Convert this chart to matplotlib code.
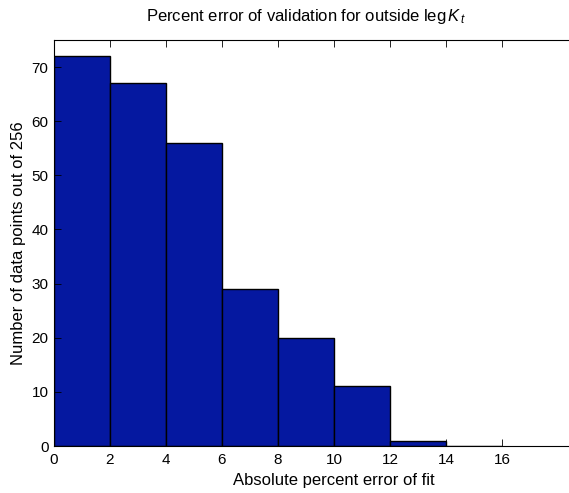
import matplotlib
matplotlib.use('Agg')
import matplotlib.pyplot as plt

bin_edges = [0, 2, 4, 6, 8, 10, 12, 14, 16]
counts = [72, 67, 56, 29, 20, 11, 1, 0]
x_ticks = [0, 2, 4, 6, 8, 10, 12, 14, 16]
y_ticks = [0, 10, 20, 30, 40, 50, 60, 70]

plt.rcParams['font.family'] = ['Liberation Sans', 'DejaVu Sans']
plt.rcParams['mathtext.fontset'] = 'custom'
plt.rcParams['mathtext.it'] = 'Liberation Sans:italic'
plt.rcParams['mathtext.rm'] = 'Liberation Sans'

W, H = 569, 493
fig = plt.figure(figsize=(W / 100, H / 100), dpi=100)
# axes: left 54px, bottom 446px, top 40px; right side runs past the image edge
left, right, top, bottom = 54, 614, 40, 446
ax = fig.add_axes([left / W, 1 - bottom / H, (right - left) / W, (bottom - top) / H])

widths = [bin_edges[i + 1] - bin_edges[i] for i in range(len(counts))]
ax.bar(bin_edges[:-1], counts, width=widths, align='edge',
       color='#0518A0', edgecolor='black', linewidth=1.0)

ax.set_xlim(0, 20)
ax.set_ylim(0, 75)
ax.set_xticks(x_ticks)
ax.set_yticks(y_ticks)
ax.tick_params(direction='in', top=True, right=True, labelsize=11, length=5, width=0.6)
ax.tick_params(axis='x', pad=5)
ax.tick_params(axis='y', pad=4)
for s in ax.spines.values():
    s.set_linewidth(0.8)

ax.set_xlabel('Absolute percent error of fit', fontsize=12, labelpad=4)
ax.set_ylabel('Number of data points out of 256', fontsize=12, labelpad=4)
fig.text(306 / W, 1 - 16 / H, r'Percent error of validation for outside leg$\,K_{\,t}$',
         ha='center', va='center', fontsize=12)

fig.savefig('out.png', dpi=100)
